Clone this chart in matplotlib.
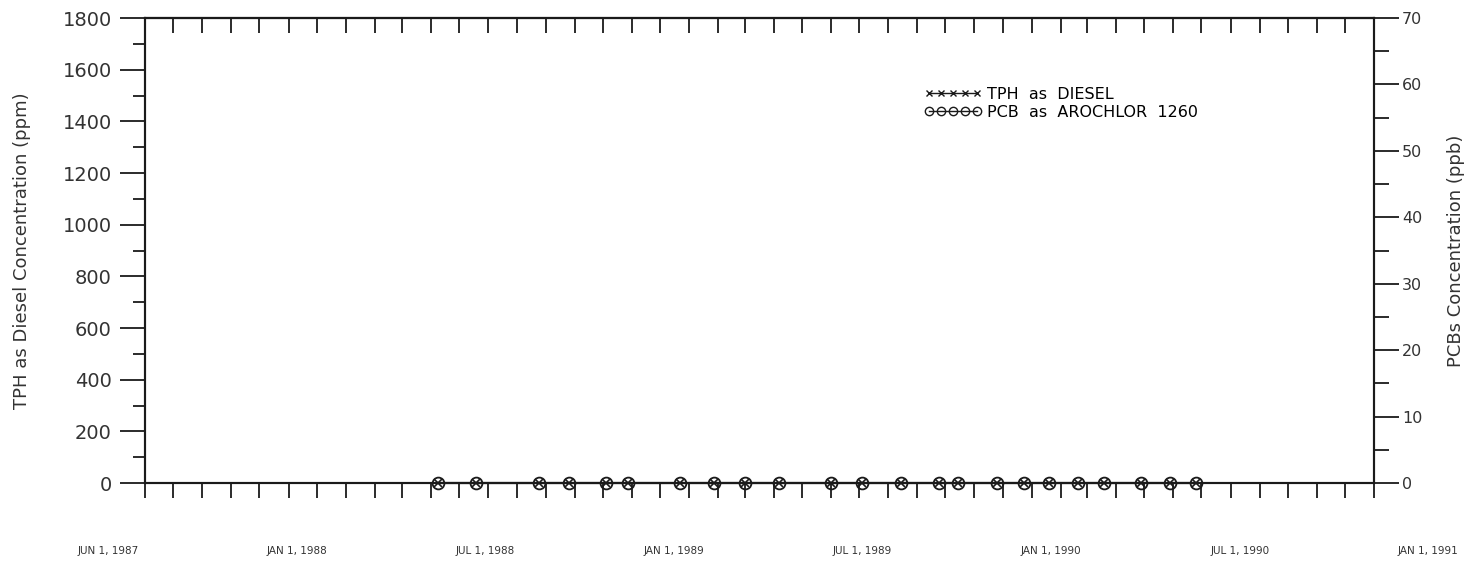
import datetime as dt
import matplotlib
matplotlib.use("Agg")
import matplotlib.pyplot as plt
import matplotlib.dates as mdates
from matplotlib.lines import Line2D
from matplotlib.ticker import MultipleLocator

# dates de prelevement
dates_prelevement = [
    "1988-04-08", "1988-05-19", "1988-07-25", "1988-08-26", "1988-10-04",
    "1988-10-28", "1988-12-22", "1989-01-27", "1989-03-01", "1989-04-07",
    "1989-06-01", "1989-07-04", "1989-08-15", "1989-09-24", "1989-10-15",
    "1989-11-25", "1989-12-24", "1990-01-19", "1990-02-19", "1990-03-19",
    "1990-04-28", "1990-05-28", "1990-06-25",
]
tph_ppm = [0] * len(dates_prelevement)
pcb_ppb = [0] * len(dates_prelevement)

labels_dates = ["JUN 1, 1987", "JAN 1, 1988", "JUL 1, 1988", "JAN 1, 1989",
                "JUL 1, 1989", "JAN 1, 1990", "JUL 1, 1990", "JAN 1, 1991"]

dates = [dt.datetime.strptime(d, "%Y-%m-%d") for d in dates_prelevement]
noir = "#1a1a1a"

plt.rcParams['font.family'] = ['DejaVu Sans']
fig = plt.figure(figsize=(14.71, 5.63), dpi=100)
ax = fig.add_axes([0.0986, 0.142, 0.8355, 0.826])

ax.plot(dates, tph_ppm, color=noir, lw=1.5, marker="x", ms=6, mew=1.2, zorder=5, clip_on=False)
ax.set_xlim(dt.datetime(1987, 6, 1), dt.datetime(1991, 1, 1))
ax.set_ylim(0, 1800)
ax.yaxis.set_major_locator(MultipleLocator(200))
ax.yaxis.set_minor_locator(MultipleLocator(100))
ax.xaxis.set_major_locator(mdates.MonthLocator())
ax.xaxis.set_major_formatter(plt.NullFormatter())
ax.tick_params(axis="x", direction="out", length=11, width=1.3, color=noir)
ax.tick_params(axis="y", which="major", direction="out", length=18, width=1.3, color=noir,
               labelsize=14, labelcolor="#333333", pad=6)
ax.tick_params(axis="y", which="minor", direction="out", length=9, width=1.3, color=noir)
ax.set_ylabel("TPH as Diesel Concentration (ppm)", fontsize=13, color="#333333", labelpad=23)
for s in ax.spines.values():
    s.set_linewidth(1.5)
    s.set_color(noir)

# graduations du haut vers l'interieur
haut = ax.secondary_xaxis("top")
haut.xaxis.set_major_locator(mdates.MonthLocator())
haut.xaxis.set_major_formatter(plt.NullFormatter())
haut.tick_params(direction="in", length=11, width=1.3, color=noir)
haut.spines["top"].set_linewidth(1.5)

ax2 = ax.twinx()
ax2.plot(dates, pcb_ppb, color=noir, lw=1.5, marker="o", ms=8.5, mfc="none", mew=1.3,
         zorder=6, clip_on=False)
ax2.set_ylim(0, 70)
ax2.yaxis.set_major_locator(MultipleLocator(10))
ax2.yaxis.set_minor_locator(MultipleLocator(5))
ax2.tick_params(axis="y", which="major", direction="out", length=18, width=1.3, color=noir,
                labelsize=11.5, labelcolor="#333333", pad=2)
ax2.tick_params(axis="y", which="minor", direction="out", length=11, width=1.3, color=noir)
ax2.set_ylabel("PCBs Concentration (ppb)", fontsize=13, color="#333333", labelpad=18)
for s in ax2.spines.values():
    s.set_linewidth(1.5)
    s.set_color(noir)

# etiquettes de dates sous l'axe (espacement regulier comme sur l'original)
for i, lab in enumerate(labels_dates):
    xf = (108 + 188.6 * i - 145) / 1229
    ax.text(xf, -0.146, lab, transform=ax.transAxes, ha="center", va="center",
            fontsize=7.5, color="#333333", family=["Liberation Sans Narrow", "DejaVu Sans"])

poignees = [
    Line2D([], [], color=noir, lw=1, marker="x", ms=4, mew=1),
    Line2D([], [], color=noir, lw=1, marker="o", ms=6, mfc="none", mew=1),
]
fig.legend(poignees, ["TPH  as  DIESEL", "PCB  as  AROCHLOR  1260"], loc="upper left",
           bbox_to_anchor=(0.623, 0.86), frameon=False, numpoints=5, handlelength=3.6,
           handletextpad=0.3, labelspacing=0.2, fontsize=11.5, borderpad=0)

fig.savefig("out.png", dpi=100)
